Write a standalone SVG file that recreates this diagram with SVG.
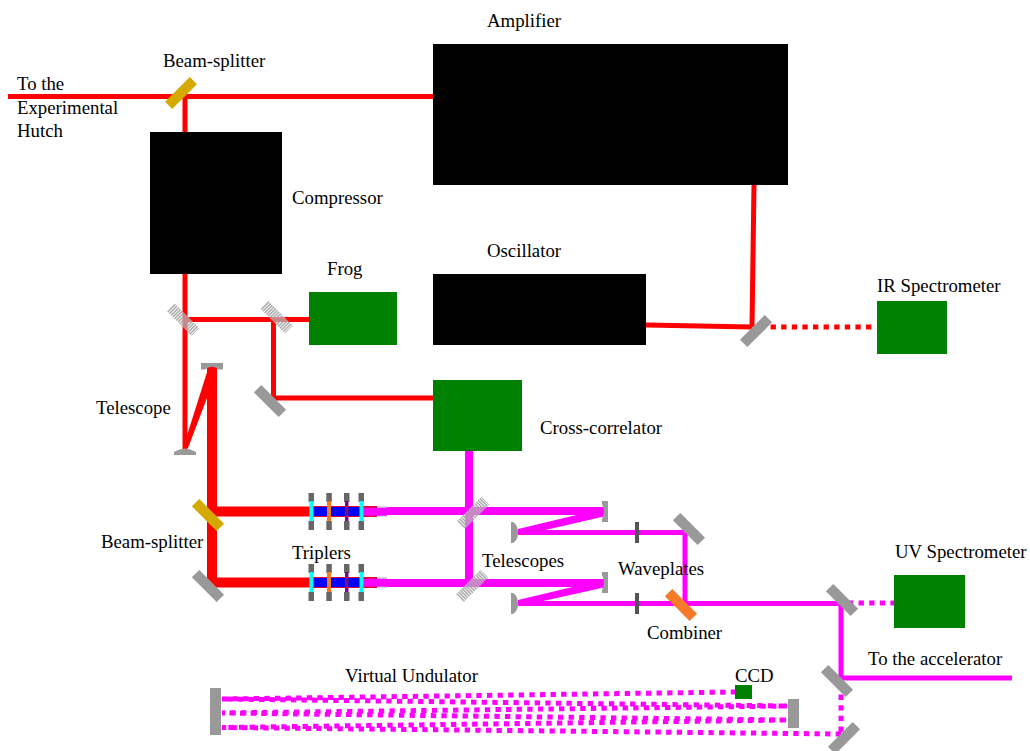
<svg xmlns="http://www.w3.org/2000/svg" width="1030" height="751" viewBox="0 0 1030 751">
<style>
text{font-family:"Liberation Serif","Times New Roman",serif;font-size:18.8px;fill:#000}
.blk{fill:#000}.grn{fill:#008000}
.r{fill:none;stroke:#f00;stroke-width:5}
.m{fill:none;stroke:#f0f;stroke-width:5}
.d{stroke-dasharray:5.3 5.3}
.g{fill:#999}.au{fill:#d4aa00}.or{fill:#f57a2a}.h{fill:url(#hatch)}
.post{fill:#666}.wp{fill:#555}
</style>
<defs>
<pattern id="hatch" width="2.4" height="10" patternUnits="userSpaceOnUse"><rect width="2.4" height="10" fill="#fff" fill-opacity=".45"/><rect width="1.4" height="10" fill="#999" fill-opacity=".9"/></pattern>
<g id="trip">
<rect x="377" y="-5.500" width="10" height="11" fill="#dcd8f4"/>
<rect x="311" y="-5.500" width="66" height="11" fill="#e00030"/>
<rect x="313" y="-4.500" width="49" height="9" fill="#00f"/>
<rect x="363" y="-3.800" width="24" height="8" fill="#f0f"/>
<rect x="308.500" y="-18.500" width="5.500" height="9" class="post"/><rect x="308.500" y="9.500" width="5.500" height="9" class="post"/>
<rect x="326.300" y="-18.500" width="5.500" height="9" class="post"/><rect x="326.300" y="9.500" width="5.500" height="9" class="post"/>
<rect x="344" y="-18.500" width="5.500" height="9" class="post"/><rect x="344" y="9.500" width="5.500" height="9" class="post"/>
<rect x="358.500" y="-18.500" width="5.500" height="9" class="post"/><rect x="358.500" y="9.500" width="5.500" height="9" class="post"/>
<rect x="309.500" y="-10.500" width="4" height="20" fill="#0ff"/>
<rect x="327" y="-10.500" width="4" height="20" fill="#f57a1a"/>
<rect x="345" y="-10.500" width="3.500" height="20" fill="#7a0a80"/>
<rect x="359.500" y="-10.500" width="4" height="20" fill="#0ff"/>
</g>
</defs>
<g id="connectors">
<path class="r" d="M8 96.500H433M185 96V450M185 319.500H309M273.500 319V398H433M754 185L752 327M646 325L752 327"/>
<path class="r d" d="M760 327H875"/>
<polygon fill="#f00" points="183,448 209,366 217,366 217,375 207,398 188,448"/>
<path d="M212 366V587.500M212 511.500H310M207 582.500H310" fill="none" stroke="#f00" stroke-width="10"/>
<use href="#trip" y="511.500"/><use href="#trip" y="582.500"/>
<path class="m" style="stroke-width:8" d="M469 451V582M387 511H605M387 583H605"/>
<polygon fill="#f0f" points="606,508 606,516 541,531 518,535 518,529"/>
<polygon fill="#f0f" points="606,579 606,587 541,601.500 518,606 518,600"/>
<path class="m" d="M518 532.500H685V603M518 603.500H841V678H1012"/>
<path class="m d" d="M848 603H894M841 684V735M841 734L222 727.500L788 720L222 713L788 706L222 699L735 692"/>
</g>
<g id="amplifier"><rect class="blk" x="433" y="44" width="355" height="141"/><text x="487" y="26.500">Amplifier</text></g>
<g id="compressor"><rect class="blk" x="150" y="132" width="132" height="142"/><text x="292" y="203.500">Compressor</text></g>
<g id="oscillator"><rect class="blk" x="433" y="274" width="213" height="71"/><text x="487" y="256.500">Oscillator</text></g>
<g id="frog"><rect class="grn" x="309" y="292" width="88" height="53"/><text x="327" y="274.500">Frog</text></g>
<g id="cross-correlator"><rect class="grn" x="433" y="380" width="89" height="71"/><text x="540" y="433.500">Cross-correlator</text></g>
<g id="ir-spectrometer"><rect class="grn" x="877" y="301" width="70" height="53"/><text x="877" y="292">IR Spectrometer</text></g>
<g id="uv-spectrometer"><rect class="grn" x="894" y="575" width="71" height="53"/><text x="895" y="558">UV Spectrometer</text></g>
<g id="ccd"><rect class="grn" x="735" y="685" width="17" height="14"/><text x="735" y="681.500">CCD</text></g>
<g id="labels">
<text x="17" y="89.500">To the</text><text x="17" y="113.500">Experimental</text><text x="17" y="136.500">Hutch</text>
<text x="163" y="67">Beam-splitter</text>
<text x="96" y="413.500">Telescope</text>
<text x="101" y="547.500">Beam-splitter</text>
<text x="292" y="558.500">Triplers</text>
<text x="482" y="566.500">Telescopes</text>
<text x="618" y="575">Waveplates</text>
<text x="647" y="638.500">Combiner</text>
<text x="345" y="681.500">Virtual Undulator</text>
<text x="868" y="664.500">To the accelerator</text>
</g>
<g id="optics">
<rect class="au" x="-17.500" y="-5" width="35" height="10" transform="translate(181 93) rotate(-45)"/>
<rect class="h" x="-17.500" y="-5.500" width="35" height="11" transform="translate(183 319.500) rotate(45)"/>
<rect class="h" x="-17.500" y="-5.500" width="35" height="11" transform="translate(276.500 317) rotate(45)"/>
<rect class="g" x="-17.500" y="-5.200" width="35" height="10.500" transform="translate(270 401) rotate(45)"/>
<rect class="g" x="-17.500" y="-5.200" width="35" height="10.500" transform="translate(756 331) rotate(-45)"/>
<path class="g" d="M201 363H223V369.500H219Q212 364 205 369.500H201Z"/>
<path class="g" d="M174 455V452Q185 445 196 452V455Z"/>
<rect class="au" x="-17.500" y="-5.200" width="35" height="10.500" transform="translate(208 515) rotate(45)"/>
<rect class="g" x="-17.500" y="-5.200" width="35" height="10.500" transform="translate(208 586) rotate(45)"/>
<rect class="h" x="-17.500" y="-5.500" width="35" height="11" transform="translate(473 513) rotate(-45)"/>
<rect class="h" x="-17.500" y="-5.500" width="35" height="11" transform="translate(472 586) rotate(-45)"/>
<path class="g" d="M602 501H608V522H602V519Q606 512 602 504Z"/>
<path class="g" d="M602 572H608V593H602V590Q606 583 602 575Z"/>
<path class="g" d="M511 522H513Q518 525 518 532.500Q518 540 513 543H511Z"/>
<path class="g" d="M511 593H513Q518 596 518 603.500Q518 611 513 614H511Z"/>
<rect class="wp" x="635" y="522" width="4" height="21"/>
<rect class="wp" x="635" y="593" width="4" height="21"/>
<rect class="g" x="-17.500" y="-5.200" width="35" height="10.500" transform="translate(689 529) rotate(45)"/>
<rect class="or" x="-17.500" y="-5.200" width="35" height="10.500" transform="translate(681 605) rotate(45)"/>
<rect class="g" x="-17.500" y="-5.200" width="35" height="10.500" transform="translate(842 600) rotate(45)"/>
<rect class="g" x="-17.500" y="-5.200" width="35" height="10.500" transform="translate(837 681) rotate(45)"/>
<rect class="g" x="-17.500" y="-5.200" width="35" height="10.500" transform="translate(844 738) rotate(-45)"/>
<rect class="g" x="210" y="688" width="11" height="47"/>
<rect class="g" x="788" y="699" width="11" height="29"/>
</g>
</svg>
